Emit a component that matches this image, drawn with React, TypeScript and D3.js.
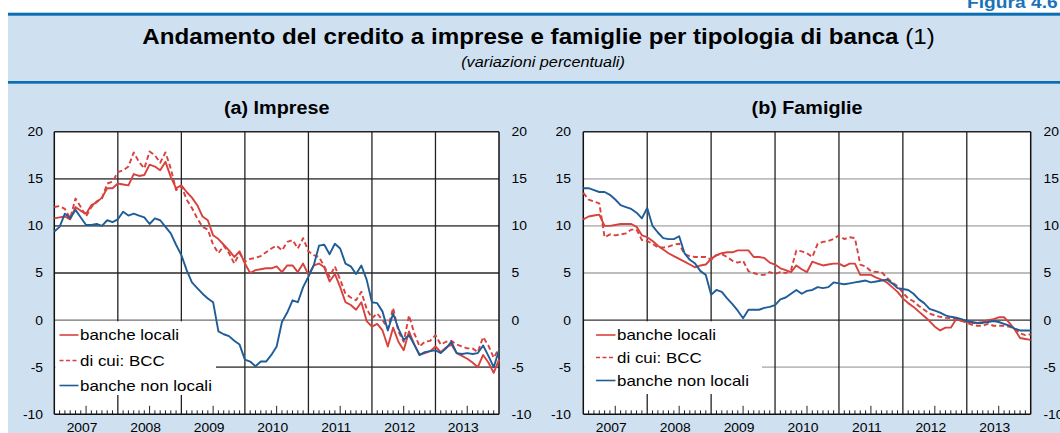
import React from 'react';
import * as d3 from 'd3';

// ---------- DATA (monthly, Jan 2007 = index 0) ----------
const yearLabels = ['2007', '2008', '2009', '2010', '2011', '2012', '2013'];
const yTicks = [-10, -5, 0, 5, 10, 15, 20];
const seriesNames = ['banche locali', 'di cui: BCC', 'banche non locali'];

const impreseLocali = [
  10.8, 10.9, 11.0, 10.7, 12.0, 11.6, 11.3, 12.2, 12.5, 13.0,
  14.0, 14.0, 14.5, 14.4, 14.3, 15.5, 15.3, 15.4, 16.5, 16.3,
  15.9, 16.8, 15.2, 14.0, 14.3, 13.6, 13.0, 12.2, 11.0, 10.6,
  9.0, 8.6, 8.0, 7.4, 6.7, 7.3, 6.0, 5.0, 5.3, 5.4,
  5.5, 5.5, 5.7, 5.1, 5.8, 5.8, 5.1, 6.0, 4.8, 5.8,
  6.0, 5.6, 4.1, 4.9, 3.5, 1.9, 1.6, 1.1, 1.9, -0.1,
  -0.7, -0.4, -1.1, -2.8, -0.8, -2.3, -3.2, -1.2, -2.6, -3.7,
  -3.5, -3.3, -2.8, -3.4, -2.9, -2.6, -3.5, -3.8, -4.1, -4.5,
  -5.0, -3.7, -4.5, -5.6, -4.2,
];
const impreseBCC = [
  12.0, 12.1, 11.8, 10.8, 12.9, 12.0, 11.0, 12.0, 12.6, 12.9,
  14.5, 14.7, 15.7, 15.9, 16.3, 17.8, 16.8, 16.1, 17.9, 17.5,
  16.7, 17.8, 16.1, 13.8, 14.2, 12.8, 11.9, 10.8, 9.9, 9.6,
  8.0, 7.1, 7.9, 7.1, 6.0, 7.1, 6.2, 6.5, 6.6, 6.8,
  7.2, 7.6, 7.9, 7.4, 8.3, 8.5, 7.6, 8.7, 7.3, 6.9,
  6.7, 5.7, 4.6, 5.7, 4.3, 2.8, 2.4, 2.1, 3.0, 1.2,
  0.2, 0.7, 0.0, -0.9, 1.3, -1.2, -2.3, 0.5, -1.4, -2.8,
  -2.3, -2.2, -1.6, -2.6, -2.3, -2.2, -2.6, -2.8, -3.0, -3.0,
  -3.4, -1.8, -2.7, -4.0, -3.0,
];
const impreseNonLocali = [
  9.4, 9.9, 11.3, 10.8, 11.7, 10.9, 10.1, 10.1, 10.2, 10.0,
  10.6, 10.4, 10.7, 11.5, 11.1, 11.3, 11.1, 10.9, 10.2, 10.8,
  10.6, 9.9, 9.2, 8.0, 6.9, 5.3, 4.0, 3.4, 2.8, 2.3,
  1.9, -1.2, -1.5, -1.7, -2.2, -2.6, -4.2, -4.4, -4.9, -4.4,
  -4.4, -3.7, -2.8, -0.2, 0.8, 2.1, 1.9, 3.5, 4.6, 5.8,
  7.9, 8.0, 7.0, 8.1, 7.6, 6.0, 5.7, 4.9, 5.8, 4.3,
  1.9, 1.8, 0.9, -1.1, 0.7, -0.9, -2.1, -1.6, -2.6, -3.7,
  -3.4, -3.3, -3.2, -3.5, -3.0, -2.3, -3.5, -3.6, -3.5, -3.6,
  -3.5, -2.7, -3.8, -5.0, -3.2,
];

const famiglieLocali = [
  10.7, 11.0, 11.1, 11.2, 10.0, 10.0, 10.1, 10.2, 10.2, 10.2,
  9.9, 9.0, 8.8, 8.4, 7.9, 7.5, 7.1, 6.8, 6.5, 6.2,
  5.9, 5.6, 5.8, 5.9, 6.5, 6.9, 7.1, 7.2, 7.2, 7.4,
  7.4, 7.4, 6.7, 6.7, 6.6, 6.1, 5.9, 5.5, 5.3, 5.1,
  5.8, 5.4, 5.1, 6.2, 6.0, 5.8, 5.9, 6.0, 6.0, 5.7,
  6.0, 6.0, 4.8, 4.8, 4.8, 4.5, 4.3, 4.0, 3.5, 3.0,
  2.3, 1.8, 1.4, 0.9, 0.4, -0.1, -0.7, -1.1, -0.8, -0.8,
  0.1, -0.1, -0.2, -0.3, -0.3, -0.2, 0.0, 0.1, 0.3, 0.3,
  -0.3, -1.0, -1.9, -2.0, -2.1,
];
const famiglieBCC = [
  13.5, 12.8, 12.6, 12.4, 8.8, 9.1, 9.0, 9.1, 9.2, 9.6,
  9.6, 8.5, 8.4, 8.1, 7.7, 7.7, 7.8, 8.0, 8.1, 7.0,
  6.8, 6.7, 6.7, 6.7, 6.4, 6.9, 7.0, 6.7, 6.3, 6.1,
  6.3, 5.2, 5.0, 4.8, 4.8, 5.1, 4.9, 5.1, 5.0, 5.3,
  7.4, 7.3, 7.1, 6.7, 8.1, 8.3, 8.4, 8.6, 9.0, 8.6,
  8.8, 8.7, 5.9, 5.7, 5.2, 5.1, 5.1, 4.5, 4.0, 3.6,
  2.9, 2.3, 2.0, 1.5, 1.1, 0.7, 0.5, 0.35, 0.25, 0.2,
  0.1, 0.0, -0.3, -0.5, -0.6, -0.6, -0.4, -0.6, -0.6, -0.6,
  -0.7, -0.9, -1.4, -1.6, -1.5,
];
const famiglieNonLocali = [
  14.0, 14.0, 13.8, 13.6, 13.6, 13.3, 12.8, 12.2, 12.0, 11.8,
  11.4, 10.8, 11.9, 10.0, 9.3, 8.7, 8.6, 8.6, 8.9, 7.1,
  6.4, 6.0, 5.2, 4.8, 2.7, 3.2, 3.0, 2.3, 1.7, 1.0,
  0.2, 1.1, 1.1, 1.1, 1.3, 1.4, 1.6, 2.2, 2.4, 2.8,
  3.2, 2.8, 3.1, 3.2, 3.5, 3.4, 3.5, 4.0, 3.9, 3.8,
  3.9, 4.0, 4.1, 4.2, 4.0, 4.1, 4.2, 4.3, 3.9, 3.4,
  3.3, 3.2, 2.8, 2.2, 1.8, 1.2, 1.0, 0.8, 0.5, 0.35,
  0.25, 0.1, -0.1, -0.2, -0.3, -0.3, -0.2, -0.1, -0.2, -0.4,
  -0.6, -0.9, -1.1, -1.1, -1.1,
];

// ---------- STYLE / LAYOUT ----------
const W = 1060;
const H = 433;
const SX = 1.13;
const FONT = "'Liberation Sans', Arial, Helvetica, sans-serif";
const BG = '#cfe0f1';
const RULE = '#0b6db3';
const RED = '#d8413d';
const BLUE = '#1f5d99';
const TOP = 131.7;
const BOTTOM = 414.3;
const NMONTHS = 84;

type TProps = {
  x: number; y: number; size: number; anchor?: 'start' | 'middle' | 'end';
  weight?: string; italic?: boolean; fill?: string; children: React.ReactNode;
};
function T({ x, y, size, anchor = 'start', weight = 'normal', italic = false, fill = '#000', children }: TProps) {
  return (
    <text
      transform={`translate(${x},${y}) scale(${SX},1)`}
      fontSize={size}
      fontFamily={FONT}
      fontWeight={weight}
      fontStyle={italic ? 'italic' : 'normal'}
      textAnchor={anchor}
      fill={fill}
    >
      {children}
    </text>
  );
}

type PanelCfg = {
  title: string;
  left: number;
  right: number;
  leftLabelX: number;
  rightLabelX: number;
  hGrid: string;
  zeroColor: string;
  series: number[][];
  legend: { x0: number; x1: number; tx: number; ys: number[]; box: [number, number, number, number] };
};

const panels: PanelCfg[] = [
  {
    title: '(a) Imprese',
    left: 54.3,
    right: 499,
    leftLabelX: 43,
    rightLabelX: 511.5,
    hGrid: '#5e5e5e',
    zeroColor: '#707070',
    series: [impreseLocali, impreseBCC, impreseNonLocali],
    legend: { x0: 59.5, x1: 78.5, tx: 80, ys: [335, 360.5, 385.5], box: [55.2, 321.3, 216, 395] },
  },
  {
    title: '(b) Famiglie',
    left: 583.3,
    right: 1030.7,
    leftLabelX: 571,
    rightLabelX: 1043.5,
    hGrid: '#bdbdbd',
    zeroColor: '#333333',
    series: [famiglieLocali, famiglieBCC, famiglieNonLocali],
    legend: { x0: 596, x1: 615.5, tx: 617, ys: [335, 357.5, 380.5], box: [584.2, 321.3, 762, 394] },
  },
];

const seriesStyle = [
  { color: RED, dash: undefined as string | undefined },
  { color: RED, dash: '5,3' },
  { color: BLUE, dash: undefined as string | undefined },
];

function Panel({ cfg }: { cfg: PanelCfg }) {
  const x = d3.scaleLinear().domain([0, NMONTHS]).range([cfg.left, cfg.right]);
  const y = d3.scaleLinear().domain([-10, 20]).range([BOTTOM, TOP]);
  const line = d3
    .line<number>()
    .x((_, i) => x(i))
    .y((d) => y(d));
  const months = d3.range(NMONTHS + 1);
  const mid = (cfg.left + cfg.right) / 2;
  const lb = cfg.legend.box;

  return (
    <g>
      <rect x={cfg.left} y={TOP} width={cfg.right - cfg.left} height={BOTTOM - TOP} fill="#fff" />
      {yTicks
        .filter((t) => t > -10 && t < 20)
        .map((t) => (
          <line
            key={'h' + t}
            x1={cfg.left}
            x2={cfg.right}
            y1={y(t)}
            y2={y(t)}
            stroke={t === 0 ? cfg.zeroColor : cfg.hGrid}
            strokeWidth={t === 0 ? 1.4 : 1.8}
          />
        ))}
      {months
        .filter((m) => m % 12 === 0 && m > 0 && m < NMONTHS)
        .map((m) => (
          <line key={'v' + m} x1={x(m)} x2={x(m)} y1={TOP} y2={BOTTOM} stroke="#222" strokeWidth={1.3} />
        ))}
      <rect x={lb[0]} y={lb[1]} width={lb[2] - lb[0]} height={lb[3] - lb[1]} fill="#fff" />
      {months
        .filter((m) => m % 12 !== 0)
        .map((m) => (
          <line
            key={'t' + m}
            x1={x(m)}
            x2={x(m)}
            y1={BOTTOM}
            y2={BOTTOM - (m % 12 === 6 ? 8.5 : 4)}
            stroke="#222"
            strokeWidth={1}
          />
        ))}
      <line x1={cfg.left} x2={cfg.right} y1={TOP} y2={TOP} stroke="#222" strokeWidth={1.5} />
      <line x1={cfg.left} x2={cfg.right} y1={BOTTOM} y2={BOTTOM} stroke="#111" strokeWidth={1.5} />
      <line x1={cfg.left} x2={cfg.left} y1={TOP} y2={BOTTOM} stroke="#111" strokeWidth={1.5} />
      <line x1={cfg.right} x2={cfg.right} y1={TOP} y2={BOTTOM} stroke="#111" strokeWidth={1.5} />
      {cfg.series.map((s, i) => (
        <path
          key={'s' + i}
          d={line(s) || ''}
          fill="none"
          stroke={seriesStyle[i].color}
          strokeWidth={1.9}
          strokeDasharray={seriesStyle[i].dash}
          strokeLinejoin="round"
        />
      ))}
      {seriesNames.map((n, i) => (
        <g key={'l' + i}>
          <line
            x1={cfg.legend.x0}
            x2={cfg.legend.x1}
            y1={cfg.legend.ys[i]}
            y2={cfg.legend.ys[i]}
            stroke={seriesStyle[i].color}
            strokeWidth={1.6}
            strokeDasharray={seriesStyle[i].dash ? '4,2.5' : undefined}
          />
          <T x={cfg.legend.tx} y={cfg.legend.ys[i] + 5.4} size={15}>
            {n}
          </T>
        </g>
      ))}
      {yTicks.map((t) => (
        <g key={'yl' + t}>
          <T x={cfg.leftLabelX} y={y(t) + 4.4} size={12.3} anchor="end">
            {String(t)}
          </T>
          <T x={cfg.rightLabelX} y={y(t) + 4.4} size={12.3} anchor="start">
            {String(t)}
          </T>
        </g>
      ))}
      {yearLabels.map((yl, i) => (
        <T key={yl} x={x(i * 12 + 6) - 4} y={431.5} size={12.3} anchor="middle">
          {yl}
        </T>
      ))}
      <T x={mid} y={114.3} size={17.5} anchor="middle" weight="bold">
        {cfg.title}
      </T>
    </g>
  );
}

export default function App() {
  return (
    <svg
      width={W}
      height={H}
      viewBox={`0 0 ${W} ${H}`}
      style={{ position: 'absolute', left: 0, top: 0, display: 'block', background: '#fff' }}
    >
      <rect x={8} y={14} width={W - 8} height={H - 14} fill={BG} />
      <rect x={8} y={12.7} width={W - 8} height={3} fill={RULE} />
      <rect x={8} y={81} width={W - 8} height={2.7} fill={RULE} />
      <T x={967} y={8} size={17} weight="bold" fill="#1a73b8">
        Figura 4.6
      </T>
      <text
        transform={`translate(538.5,44) scale(${SX},1)`}
        fontSize={21.4}
        fontFamily={FONT}
        textAnchor="middle"
        fill="#000"
      >
        <tspan fontWeight="bold">Andamento del credito a imprese e famiglie per tipologia di banca</tspan>
        <tspan> (1)</tspan>
      </text>
      <T x={543} y={67} size={14.4} anchor="middle" italic>
        (variazioni percentuali)
      </T>
      {panels.map((p) => (
        <Panel key={p.title} cfg={p} />
      ))}
    </svg>
  );
}
